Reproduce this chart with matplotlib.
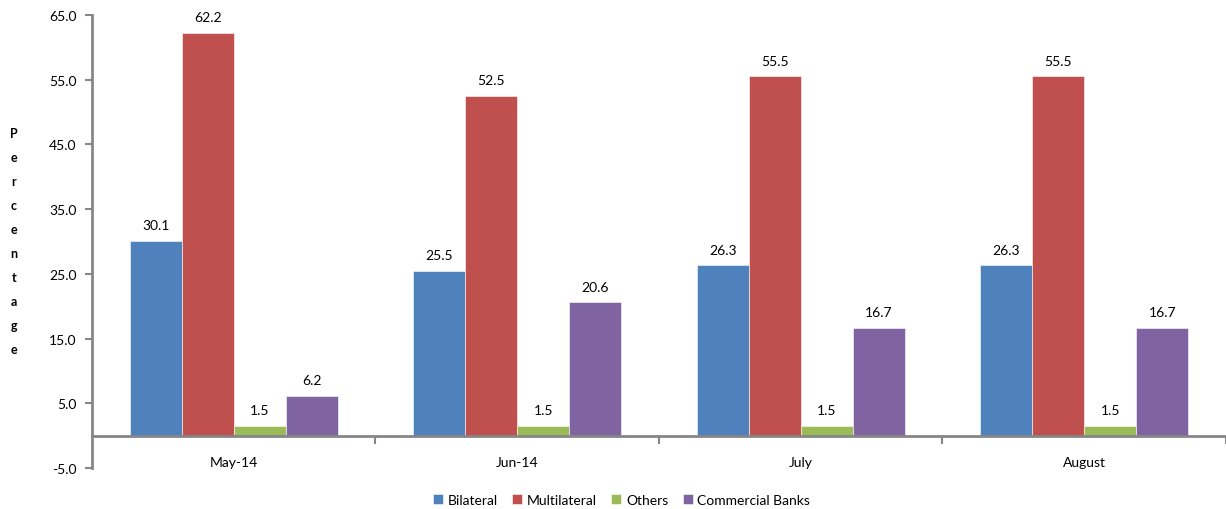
import matplotlib.pyplot as plt
import numpy as np

# Chart data
months = ["May-14", "Jun-14", "July", "August"]
series_names = ["Bilateral", "Multilateral", "Others", "Commercial Banks"]
bilateral = [30.1, 25.5, 26.3, 26.3]
multilateral = [62.2, 52.5, 55.5, 55.5]
others = [1.5, 1.5, 1.5, 1.5]
commercial = [6.2, 20.6, 16.7, 16.7]
y_ticks = [-5.0, 5.0, 15.0, 25.0, 35.0, 45.0, 55.0, 65.0]

colors = ["#4F81BD", "#C0504D", "#9BBB59", "#8064A2"]
grey = "#868686"

plt.rcParams["font.family"] = ["Lato", "DejaVu Sans"]

fig = plt.figure(figsize=(12.26, 5.1), dpi=100)
ax = fig.add_axes([0.075, 0.0804, 0.925, 0.8882])

centers = np.arange(len(months)) + 0.5
width = 0.1834
all_series = [bilateral, multilateral, others, commercial]

for i, (vals, name) in enumerate(zip(all_series, series_names)):
    xs = centers + (i - 1.5) * width
    bars = ax.bar(xs, vals, width=width, color=colors[i], label=name,
                  edgecolor="white", linewidth=0.4, zorder=2)
    for b, v in zip(bars, vals):
        ax.annotate("%.1f" % v, (b.get_x() + b.get_width() / 2, v),
                    xytext=(0, 7), textcoords="offset points",
                    ha="center", va="bottom", fontsize=10, color="#000000")

ax.set_xlim(0, len(months))
ax.set_ylim(-5, 65)

# y axis
ax.set_yticks(y_ticks)
ax.set_yticklabels(["%.1f" % t for t in y_ticks], fontsize=10)
ax.tick_params(axis="y", direction="out", length=5, width=1.5, color=grey, pad=6)

# x axis sits on zero, ticks mark the category boundaries
ax.spines["bottom"].set_position(("data", 0))
ax.set_xticks(np.arange(1, len(months) + 1))
ax.set_xticklabels([])
ax.tick_params(axis="x", which="major", direction="out", length=6, width=1.5, color=grey)
ax.set_xticks(centers, minor=True)
ax.set_xticklabels(months, minor=True, fontsize=10)
ax.tick_params(axis="x", which="minor", length=0, pad=15)

for side in ["top", "right"]:
    ax.spines[side].set_visible(False)
ax.spines["left"].set_color(grey)
ax.spines["left"].set_linewidth(2)
ax.spines["bottom"].set_color(grey)
ax.spines["bottom"].set_linewidth(2)

# stacked axis title
fig.text(0.0115, 0.525, "\n".join("Percentage"), ha="center", va="center",
         fontsize=9, fontweight="bold", linespacing=2.2)

fig.legend(loc="lower center", bbox_to_anchor=(0.507, -0.018), ncol=4,
           frameon=False, fontsize=10, handlelength=0.7, handleheight=0.7,
           handletextpad=0.35, columnspacing=1.05)

fig.savefig("out.png", dpi=100)
